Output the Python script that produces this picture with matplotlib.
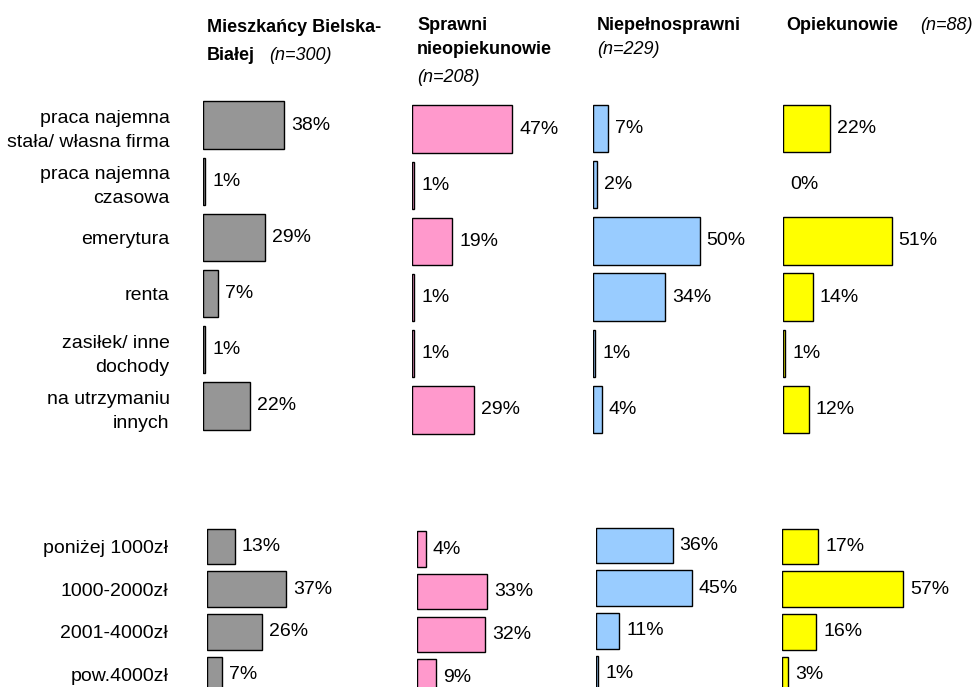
import numpy as np
import matplotlib.pyplot as plt

plt.rcParams['font.family'] = ['Liberation Sans', 'DejaVu Sans']

# source of income (top block)
zrodla = ['praca najemna\nstała/ własna firma', 'praca najemna\nczasowa', 'emerytura',
          'renta', 'zasiłek/ inne\ndochody', 'na utrzymaniu\ninnych']
mieszkancy_zr = [38, 1, 29, 7, 1, 22]
sprawni_zr = [47, 1, 19, 1, 1, 29]
niepelno_zr = [7, 2, 50, 34, 1, 4]
opiekun_zr = [22, 0, 51, 14, 1, 12]

# income per person (bottom block)
dochody = ['poniżej 1000zł', '1000-2000zł', '2001-4000zł', 'pow.4000zł']
mieszkancy_doch = [13, 37, 26, 7]
sprawni_doch = [4, 33, 32, 9]
niepelno_doch = [36, 45, 11, 1]
opiekun_doch = [17, 57, 16, 3]

colors = ['#969696', '#FF99CC', '#99CCFF', '#FFFF00']

W, H = 977, 687
fig = plt.figure(figsize=(W / 100, H / 100), dpi=100)
FS = 14
PX_PER_PCT = 2.13


def px_axes(left, top, width, height):
    return fig.add_axes([left / W, 1 - (top + height) / H, width / W, height / H])


def draw_block(ax, labels, values, color, bar_h, show_labels, pad):
    n = len(values)
    y = np.arange(n)
    lw = [1.0 if v > 0 else 0 for v in values]  # no outline for 0%
    ax.barh(y, values, height=bar_h, color=color, edgecolor='black', linewidth=lw)
    for yi, v in zip(y, values):
        ax.annotate('{:d}%'.format(v), (v, yi), xytext=(5, 0), textcoords='offset points',
                    ha='left', va='center', fontsize=FS)
    ax.set_ylim(n - 0.5, -0.5)
    ax.set_xlim(0, 170 / PX_PER_PCT)
    ax.set_xticks([])
    for s in ax.spines.values():
        s.set_visible(False)
    ax.patch.set_visible(False)
    if show_labels:
        ax.set_yticks(y)
        ax.set_yticklabels(labels, fontsize=FS)
        ax.tick_params(axis='y', length=0, pad=pad)
        for t in ax.get_yticklabels():
            t.set_linespacing(1.55)
    else:
        ax.set_yticks([])


# top block
top_left = [203, 412, 593, 783]
top_c0 = [125, 129, 128.5, 128.5]
pitch = 56.2
for i, vals in enumerate([mieszkancy_zr, sprawni_zr, niepelno_zr, opiekun_zr]):
    ax = px_axes(top_left[i], top_c0[i] - pitch / 2, 170, pitch * len(vals))
    draw_block(ax, zrodla, vals, colors[i], 0.84, i == 0, 24)

# bottom block (last row runs off the page)
bot_left = [207, 417, 596, 782]
bot_c0 = [546.5, 549, 545.5, 546.5]
pitch = 42.7
for i, vals in enumerate([mieszkancy_doch, sprawni_doch, niepelno_doch, opiekun_doch]):
    ax = px_axes(bot_left[i], bot_c0[i] - pitch / 2, 170, pitch * len(vals))
    draw_block(ax, dochody, vals, colors[i], 0.83, i == 0, 28)


# column headers
def head(x, y, s, bold=True):
    fig.text(x / W, 1 - y / H, s, fontsize=13, va='center', ha='left',
             fontweight='bold' if bold else 'normal', style='normal' if bold else 'italic')


head(207, 27, 'Mieszkańcy Bielska-')
head(207, 55, 'Białej')
head(269, 55, '(n=300)', bold=False)
head(417, 25, 'Sprawni')
head(417, 50, 'nieopiekunowie')
head(417, 77, '(n=208)', bold=False)
head(597, 25, 'Niepełnosprawni')
head(597, 50, '(n=229)', bold=False)
head(786, 25, 'Opiekunowie')
head(920, 25, '(n=88)', bold=False)

fig.savefig('out.png', dpi=100)
